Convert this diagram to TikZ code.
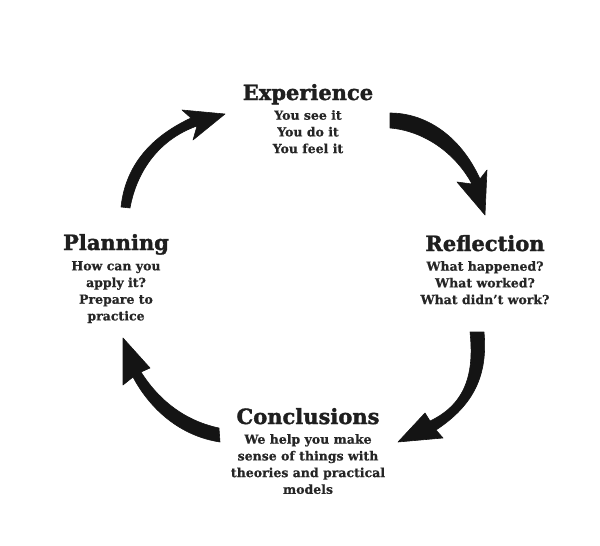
\documentclass[tikz,border=0pt]{standalone}
\usepackage{fontspec}
\setmainfont{DejaVu Serif}
\newfontfamily\heavyfont{DejaVu Serif}[FakeBold=1.6]
\newfontfamily\bodyfont{DejaVu Serif}[FakeBold=0.6]
\usepackage{tikz}
\usetikzlibrary{calc,positioning}

\tikzset{
  title/.style={anchor=base, inner sep=0pt, text=black!88,
    font=\heavyfont\fontsize{21}{24}\selectfont\bfseries},
  body/.style={anchor=north, inner sep=0pt, align=center, text=black!85,
    font=\bodyfont\fontsize{12.5}{16.7}\selectfont\bfseries},
  brush/.style={fill=black!92, draw=black!92, line width=0.6pt, line join=round}
}

\begin{document}
\begin{tikzpicture}[x=1pt,y=-1pt]

\useasboundingbox (0,0) rectangle (600,546);

% the four stages
\node (exp) at (308,100)[title] {Experience};
\node (expt) at (308,110)[body] {You see it\\You do it\\You feel it};

\node (refl) at (485,251)[title] {Reflection};
\node (reflt) at (485,261)[body] {What happened?\\What worked?\\What didn’t work?};

\node (conc) at (308,424)[title] {Conclusions};
\node (conct) at (308,434)[body] {We help you make\\sense of things with\\theories and practical\\models};

\node (plan) at (116,250)[title] {Planning};
\node (plant) at (116,261)[body] {How can you\\apply it?\\Prepare to\\practice};

% ends of the brush arrows
\coordinate (t1) at (126,207);  \coordinate (h1) at (225,114);
\coordinate (t2) at (390,120);  \coordinate (h2) at (485,215);
\coordinate (t3) at (477,332);  \coordinate (h3) at (398,442);
\coordinate (t4) at (219,435);  \coordinate (h4) at (123,338);

% planning -> experience
\fill[brush] ($(t1)+(-5,0)$) .. controls (125,170) and (146,139) .. (191,118)
  -- (182,110) -- (h1) -- (193,140) -- (197,126)
  .. controls (160,139) and (137,170) .. ($(t1)+(4,1)$) -- cycle;

% experience -> reflection
\fill[brush] ($(t2)+(0,-7)$) .. controls (425,113) and (460,135) .. (480,179)
  -- (487,170) -- (h2) -- (457,182) -- (472,184)
  .. controls (456,154) and (425,131) .. ($(t2)+(0,8)$) -- cycle;

% reflection -> conclusions
\fill[brush] ($(t3)+(-7,0)$) -- ($(t3)+(7,0)$)
  .. controls (488,375) and (474,405) .. (436,430)
  -- (443,438) -- (h3) -- (425,413) -- (430,421)
  .. controls (468,403) and (474,370) .. ($(t3)+(-7,0)$) -- cycle;

% conclusions -> planning
\fill[brush] ($(t4)+(0,-7)$) .. controls (181,420) and (156,396) .. (141,372)
  -- (150,368) -- (h4) -- (123,385) -- (133,377)
  .. controls (150,409) and (180,436) .. ($(t4)+(1,7)$) -- cycle;

\end{tikzpicture}
\end{document}
